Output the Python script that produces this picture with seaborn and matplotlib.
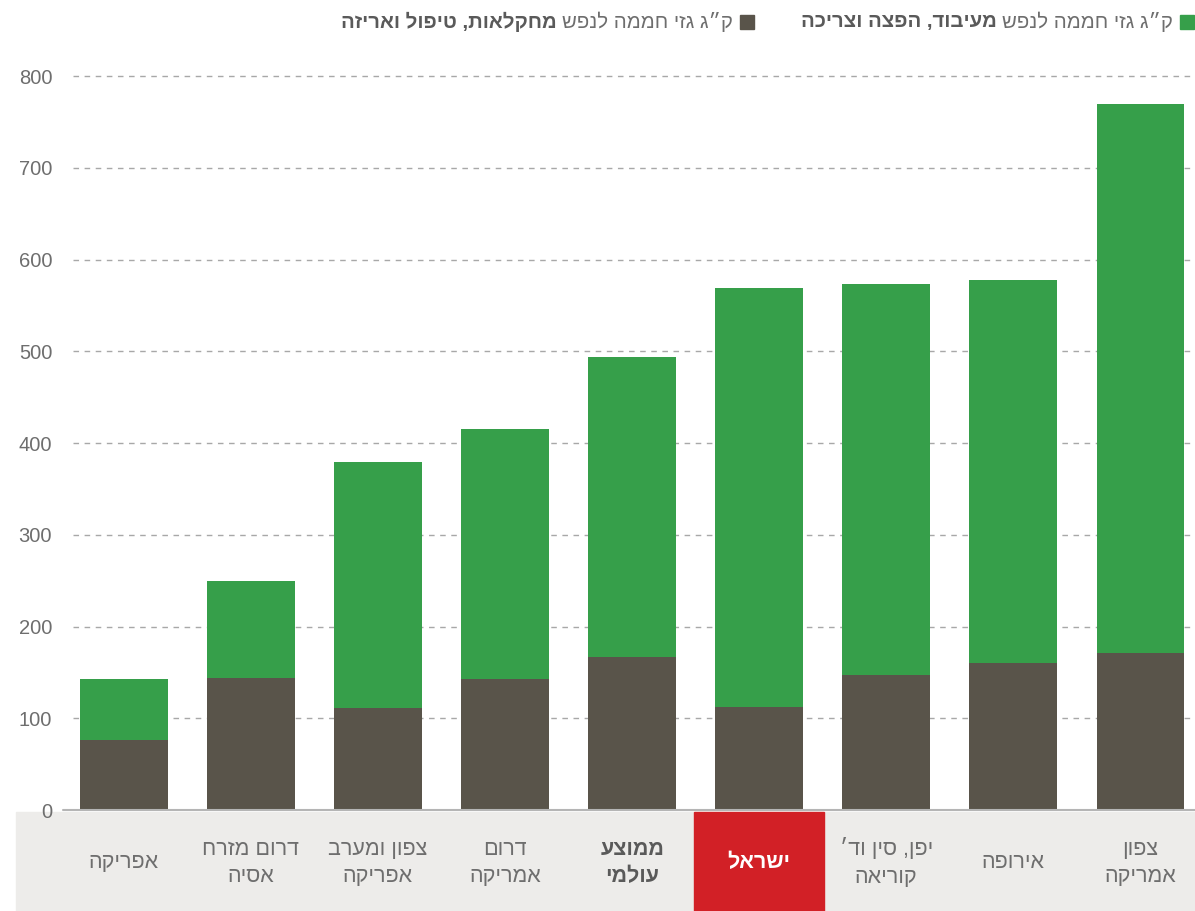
import matplotlib
matplotlib.use("Agg")
import matplotlib.pyplot as plt
import matplotlib.transforms as mtransforms
from matplotlib.patches import Rectangle
import seaborn as sns
import pandas as pd

# ---- data (left to right as displayed) ----
categories = ["אפריקה", "דרום מזרח\nאסיה", "צפון ומערב\nאפריקה", "דרום\nאמריקה",
              "ממוצע\nעולמי", "ישראל", "יפן, סין וד׳\nקוריאה", "אירופה", "צפון\nאמריקה"]
total_values = [143, 250, 379, 415, 494, 569, 573, 578, 770]
agri_values = [76, 144, 111, 143, 167, 112, 147, 160, 171]
y_ticks = [0, 100, 200, 300, 400, 500, 600, 700, 800]
legend_green = ("ק״ג גזי חממה לנפש", "מעיבוד, הפצה וצריכה")
legend_dark = ("ק״ג גזי חממה לנפש", "מחקלאות, טיפול ואריזה")
highlight = "ישראל"
bold_cat = "ממוצע\nעולמי"

GREEN = "#369F4A"
DARK = "#59544A"
RED = "#D22026"
BAND = "#EDECEA"
TXT = "#6E6E6E"

def rtl(s):
    return "\n".join(line[::-1] for line in s.split("\n"))

sns.set_theme(style="white")
FONT = ["Liberation Sans Narrow", "Liberation Sans", "DejaVu Sans"]
plt.rcParams["font.family"] = FONT

W, H = 1195, 911
fig = plt.figure(figsize=(W / 100, H / 100), dpi=100)
ax_left = 73 / W
ax_bottom = (H - 810) / H
px_per_unit = (810 - 76) / 800
ymax = 820
ax_top_px = 810 - ymax * px_per_unit
ax = fig.add_axes([ax_left, ax_bottom, 1 - ax_left, (810 - ax_top_px) / H])

df = pd.DataFrame({"cat": categories, "total": total_values, "agri": agri_values})
sns.barplot(data=df, x="cat", y="total", color=GREEN, width=0.69, saturation=1,
            linewidth=0, ax=ax, zorder=3)
sns.barplot(data=df, x="cat", y="agri", color=DARK, width=0.69, saturation=1,
            linewidth=0, ax=ax, zorder=3)

ax.set_xlim(-0.40, 8.43)
ax.set_ylim(0, ymax)
ax.set_yticks(y_ticks)
ax.set_yticklabels([str(v) for v in y_ticks], color=TXT, fontsize=14.5)
ax.tick_params(axis="y", length=0, pad=15)
ax.set_xticks([])
ax.set_xlabel("")
ax.set_ylabel("")
for s in ax.spines.values():
    s.set_visible(False)
for v in y_ticks[1:]:
    ax.axhline(v, color="#A8A8A8", lw=1.0, ls=(0, (4, 4)), zorder=1)

# baseline
fig.add_artist(plt.Line2D([63 / W, 1], [ax_bottom, ax_bottom], color="#B5B5B5", lw=1.5))

# bottom band
fig.add_artist(Rectangle((16 / W, 0), 1 - 16 / W, (H - 812) / H,
                         transform=fig.transFigure, color=BAND, zorder=0))

trans = mtransforms.blended_transform_factory(ax.transData, ax.transAxes)
band_top = -2 / (810 - ax_top_px)
band_bot = -(H - 810) / (810 - ax_top_px)
lbl_y = -53 / (810 - ax_top_px)
for i, c in enumerate(categories):
    color, weight = TXT, "normal"
    if c == highlight:
        ax.add_patch(Rectangle((i - 0.512, band_bot), 1.024, band_top - band_bot,
                               transform=trans, color=RED, clip_on=False, zorder=2))
        color, weight = "white", "bold"
    elif c == bold_cat:
        color, weight = "#5A5A5A", "bold"
    ax.text(i, lbl_y, rtl(c), transform=trans, ha="center", va="center",
            fontsize=15.5, color=color, fontweight=weight, linespacing=1.38, zorder=3)

# legend
def legend_item(x_sq, color, parts):
    fig.add_artist(Rectangle((x_sq / W, 1 - 29 / H), 14 / W, 14 / H,
                             transform=fig.transFigure, color=color))
    t1 = fig.text((x_sq - 7) / W, 1 - 22 / H, rtl(parts[0]), ha="right", va="center",
                  fontsize=14.7, color=TXT)
    ax.annotate(rtl(parts[1]), xy=(0, 0.5), xycoords=t1, xytext=(-4, 0),
                textcoords="offset points", ha="right", va="center",
                fontsize=14.7, color="#5A5A5A", fontweight="bold",
                annotation_clip=False)

legend_item(1180, GREEN, legend_green)
legend_item(740, DARK, legend_dark)

fig.savefig("out.png", dpi=100, facecolor="white")
